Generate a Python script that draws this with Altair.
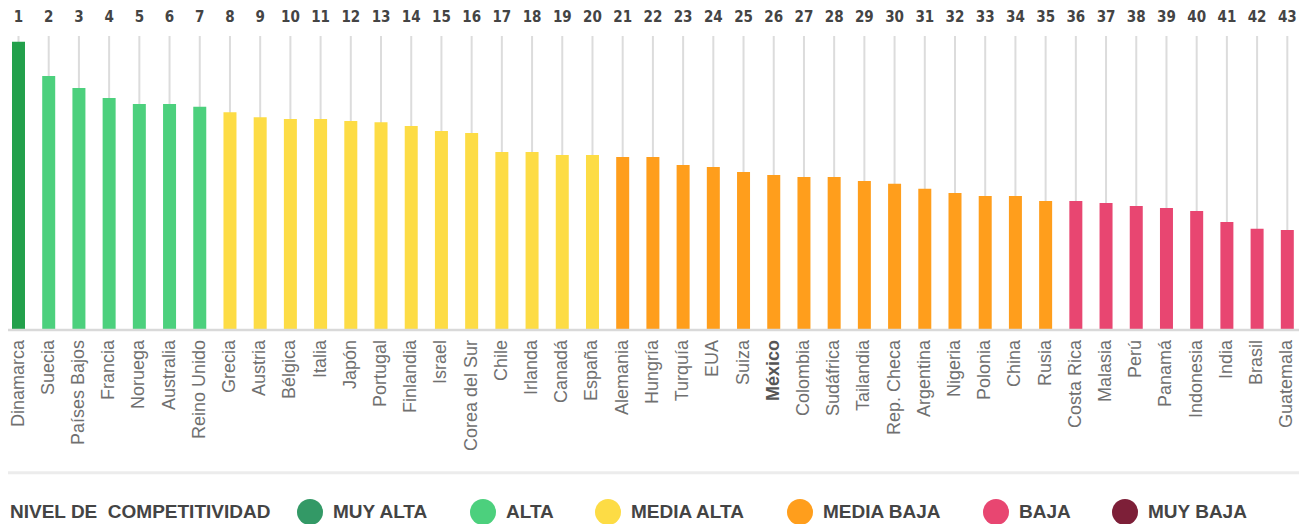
import altair as alt
import pandas as pd

# ---------------- data ----------------
paises = ["Dinamarca", "Suecia", "Países Bajos", "Francia", "Noruega", "Australia",
          "Reino Unido", "Grecia", "Austria", "Bélgica", "Italia", "Japón", "Portugal",
          "Finlandia", "Israel", "Corea del Sur", "Chile", "Irlanda", "Canadá", "España",
          "Alemania", "Hungría", "Turquía", "EUA", "Suiza", "México", "Colombia",
          "Sudáfrica", "Tailandia", "Rep. Checa", "Argentina", "Nigeria", "Polonia",
          "China", "Rusia", "Costa Rica", "Malasia", "Perú", "Panamá", "Indonesia",
          "India", "Brasil", "Guatemala"]
valores = [98.0, 86.4, 82.3, 78.9, 76.9, 76.9, 75.9, 74.1, 72.4, 71.8, 71.8, 71.1, 70.7,
           69.4, 67.7, 67.0, 60.5, 60.5, 59.5, 59.5, 58.8, 58.8, 56.1, 55.4, 53.7, 52.7,
           52.0, 52.0, 50.7, 49.7, 48.0, 46.6, 45.6, 45.6, 43.9, 43.9, 43.2, 42.2, 41.5,
           40.5, 36.7, 34.4, 34.0]
niveles_pais = (["MUY ALTA"] + ["ALTA"] * 6 + ["MEDIA ALTA"] * 13 +
                ["MEDIA BAJA"] * 15 + ["BAJA"] * 8)
niveles = ["MUY ALTA", "ALTA", "MEDIA ALTA", "MEDIA BAJA", "BAJA", "MUY BAJA"]
colores_barras = ["#22a04b", "#4cd07d", "#fddc45", "#ff9e1c", "#e84671", "#7d1f38"]
colores_leyenda = ["#339966", "#4cd07d", "#fddc45", "#ff9e1c", "#e84671", "#7d1f38"]
destacado = "México"

# ---------------- layout constants (scale units) ----------------
X_DOM = [0.6524, 43.387]
Y_DOM = [-65.99, 109.52]
GRID_TOP = 100
NUM_Y = 106.4
LABEL_Y = -3.4
SEP_Y = -48.6

df = pd.DataFrame({
    "pais": paises,
    "valor": valores,
    "nivel": niveles_pais,
    "rank": list(range(1, len(paises) + 1)),
})
df["cero"] = 0
df["tope"] = GRID_TOP
df["num_y"] = NUM_Y
df["lab_y"] = LABEL_Y

xs = alt.Scale(domain=X_DOM, nice=False, zero=False, padding=0)
ys = alt.Scale(domain=Y_DOM, nice=False, zero=False, padding=0)

X = alt.X("rank:Q", scale=xs, axis=None)

grid = alt.Chart(df).mark_rule(color="#dcdcdc", strokeWidth=2).encode(
    x=X,
    y=alt.Y("cero:Q", scale=ys, axis=None),
    y2="tope:Q",
)

bars = alt.Chart(df).mark_bar(size=13).encode(
    x=X,
    y=alt.Y("valor:Q", scale=ys, axis=None),
    y2="cero:Q",
    color=alt.Color("nivel:N", scale=alt.Scale(domain=niveles, range=colores_barras), legend=None),
)

base_df = pd.DataFrame({"x1": [X_DOM[0]], "x2": [X_DOM[1]], "y": [0]})
baseline = alt.Chart(base_df).mark_rule(color="#d9d9d9", strokeWidth=2.5).encode(
    x=alt.X("x1:Q", scale=xs, axis=None), x2="x2:Q",
    y=alt.Y("y:Q", scale=ys, axis=None),
)

sep_df = pd.DataFrame({"x1": [X_DOM[0]], "x2": [X_DOM[1]], "y": [SEP_Y]})
separator = alt.Chart(sep_df).mark_rule(color="#ececec", strokeWidth=3).encode(
    x=alt.X("x1:Q", scale=xs, axis=None), x2="x2:Q",
    y=alt.Y("y:Q", scale=ys, axis=None),
)

numeros = alt.Chart(df).mark_text(
    font="DejaVu Sans Condensed, DejaVu Sans", fontSize=15, fontWeight="bold", color="#444444",
    baseline="middle", align="center",
).encode(
    x=X, y=alt.Y("num_y:Q", scale=ys, axis=None), text="rank:Q",
)

etiquetas = alt.Chart(df).transform_filter(
    alt.datum.pais != destacado
).mark_text(
    font="Liberation Sans", fontSize=18, color="#707070", angle=270,
    align="right", baseline="middle",
).encode(
    x=X, y=alt.Y("lab_y:Q", scale=ys, axis=None), text="pais:N",
)

etiqueta_mx = alt.Chart(df).transform_filter(
    alt.datum.pais == destacado
).mark_text(
    font="Liberation Sans", fontSize=18, fontWeight="bold", color="#555555", angle=270,
    align="right", baseline="middle",
).encode(
    x=X, y=alt.Y("lab_y:Q", scale=ys, axis=None), text="pais:N",
)

ley_df = pd.DataFrame({"nivel": niveles})
leyenda = alt.Chart(ley_df).mark_circle(opacity=0, size=1).encode(
    color=alt.Color(
        "nivel:N",
        scale=alt.Scale(domain=niveles, range=colores_leyenda),
        legend=alt.Legend(
            orient="none", legendX=2, legendY=491, direction="horizontal",
            title="NIVEL DE\u00a0 COMPETITIVIDAD", titleOrient="left", titleLimit=500,
            titleFont="Liberation Sans", titleFontSize=19, titleFontWeight="bold",
            titleColor="#444444", titlePadding=26,
            labelFont="Liberation Sans", labelFontSize=19, labelFontWeight="bold",
            labelColor="#444444", labelOffset=10, columnPadding=41, labelLimit=300,
            symbolSize=676, symbolType="circle", symbolOpacity=1, symbolStrokeWidth=0,
        ),
    ),
)

chart = alt.layer(
    grid, bars, baseline, separator, numeros, etiquetas, etiqueta_mx, leyenda
).resolve_scale(color="independent").properties(
    width=1291, height=516, autosize="none", padding=0, background="white",
).configure_view(stroke=None)

chart.save("out.html", embed_options={"renderer": "svg", "actions": False})
